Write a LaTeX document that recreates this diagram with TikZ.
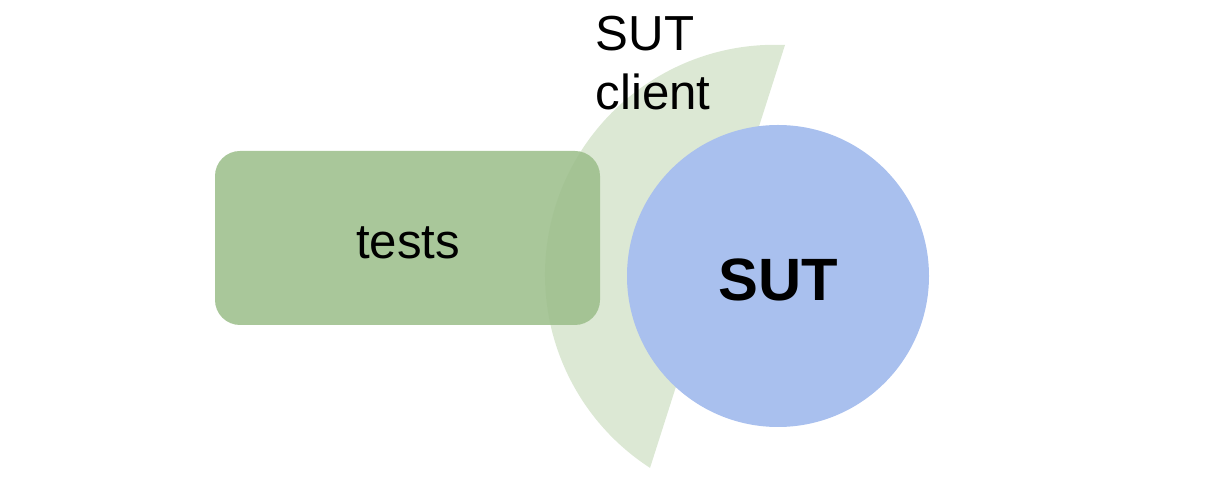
\documentclass[tikz,border=0pt]{standalone}
\usepackage{fontspec}
\setmainfont{Liberation Sans}
\definecolor{clientgreen}{HTML}{DCE8D4}
\definecolor{testsgreen}{HTML}{9DBF8C}
\definecolor{sutblue}{HTML}{A9C0EE}
\begin{document}
\begin{tikzpicture}[
    lbl/.style={font=\fontsize{14pt}{17pt}\selectfont},
  ]
  \useasboundingbox (0,0) rectangle (12.32,4.88);
  % client segment
  \fill[clientgreen] (7.85,4.43) arc[start angle=87.5,end angle=237.1,radius=2.3] -- cycle;
  % tests box
  \fill[testsgreen,opacity=.88,rounded corners=.25cm] (2.15,1.63) rectangle (6.00,3.37);
  \node[lbl] (tests) at (4.08,2.45) {tests};
  % system under test
  \fill[sutblue] (7.78,2.12) circle (1.51);
  \node[font=\fontsize{17pt}{20pt}\selectfont\bfseries] (sut) at (7.78,2.08) {SUT};
  \node[lbl,align=left,anchor=north west,inner sep=0pt] (client) at (5.95,4.73) {SUT\\client};
\end{tikzpicture}
\end{document}
